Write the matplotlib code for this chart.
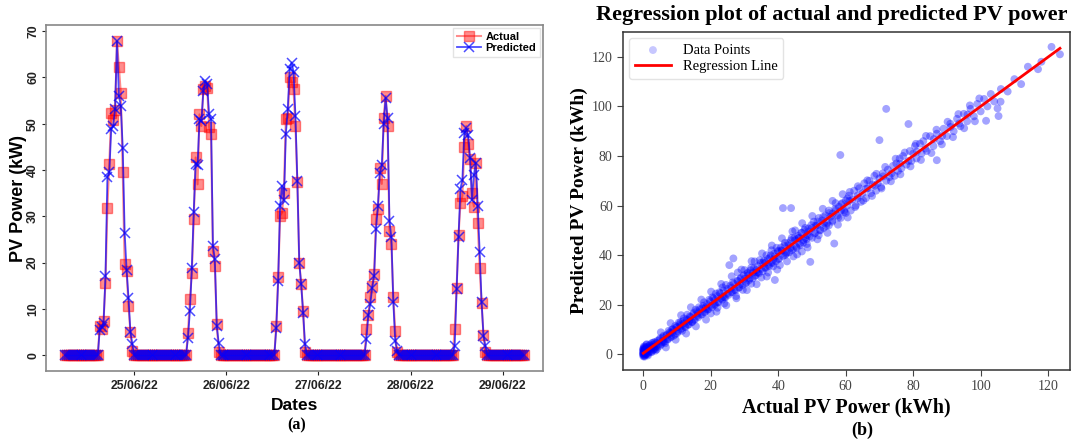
import numpy as np
import pandas as pd
import matplotlib
matplotlib.use("Agg")
import matplotlib.pyplot as plt
import matplotlib.dates as mdates

# ---- panel (a): half-hourly actual vs predicted, 24/06/22 06:00 onwards ----
start_time = "2022-06-24 06:00"
n_points = 240
# index (half-hour step) where each day's generation starts
day_starts = [18, 64, 110, 157, 203]

actual_days = [
    [6.3, 5.6, 7.5, 15.7, 31.9, 41.3, 52.4, 50.9, 53.0, 67.8, 62.3, 56.6, 39.6, 19.7, 18.3, 10.6, 5.0, 0.9],
    [4.9, 12.1, 17.7, 29.4, 42.7, 36.9, 52.0, 49.5, 57.4, 58.2, 57.8, 49.2, 47.7, 22.5, 19.3, 6.7, 0.8],
    [6.3, 16.8, 30.1, 30.8, 35.1, 51.0, 51.3, 60.0, 59.0, 57.4, 49.5, 37.3, 20.0, 15.3, 9.6, 0.6],
    [5.6, 8.8, 12.5, 15.0, 17.5, 29.5, 31.5, 40.5, 37.0, 51.3, 56.0, 49.5, 26.8, 24.0, 12.5, 5.2, 0.8],
    [5.6, 14.6, 26.0, 32.8, 34.4, 45.0, 49.5, 45.7, 42.3, 35.0, 32.1, 41.6, 28.5, 18.9, 11.3, 4.4, 0.8],
]
predicted_days = [
    [5.5, 6.0, 7.0, 17.1, 38.5, 39.5, 48.8, 49.5, 53.1, 67.8, 56.0, 53.8, 44.8, 26.5, 18.5, 12.4, 5.0, 2.4],
    [3.8, 9.6, 18.8, 31.0, 41.3, 41.0, 51.0, 50.5, 57.0, 59.3, 58.5, 52.0, 51.0, 23.6, 20.7, 6.3, 2.7],
    [5.8, 16.1, 32.3, 36.6, 33.5, 47.7, 53.1, 61.9, 63.2, 61.2, 51.7, 37.6, 20.0, 15.3, 9.2, 2.4],
    [3.5, 8.8, 11.0, 14.6, 17.1, 27.2, 32.3, 39.4, 41.0, 50.0, 55.6, 51.2, 29.0, 25.5, 11.6, 3.0, 1.0],
    [2.0, 14.2, 25.6, 36.0, 37.9, 47.9, 49.0, 47.5, 42.5, 33.5, 39.0, 41.5, 32.3, 22.4, 11.6, 4.2, 2.0],
]
tick_days = ["2022-06-25", "2022-06-26", "2022-06-27", "2022-06-28", "2022-06-29"]

# ---- panel (b): actual vs predicted pairs ----
# spread of the cloud (outer points)
scatter_actual = [
    0, 0, 0, 0, 0, 0.2, 0.3, 0.5, 0.5, 0.8, 1.0, 1.0, 1.2, 1.5, 1.5, 1.8, 2.0, 2.0, 2.3, 2.5, 2.8, 3.0, 3.0, 3.3,
    3.5, 3.8, 4.0, 4.2, 4.5, 5.0, 5.0, 5.5,
    6, 6, 6.5, 7, 7.2, 7.5, 8, 8, 8.5, 9, 9, 9.5, 10, 10, 10.5, 11, 11, 11.5, 12, 12, 12.5, 13, 13, 13.5,
    14, 14.5, 15, 15, 15.5, 16, 16.5, 17, 17.5, 18, 18, 18.5, 19, 19.5, 20, 20,
    20.5, 21, 21.5, 22, 22, 22.5, 23, 23.5, 24, 24, 24.5, 25, 25.5, 26, 26.5, 26.7, 27, 27.5, 28, 28, 28.5,
    29, 29.5, 30, 30, 30.5, 31, 31.5, 32, 32, 32.5, 33, 33, 33.5, 34, 34.5, 35, 35, 35.5, 36, 36.5, 37, 37,
    37.5, 38, 38, 38.5, 39, 39, 39.5, 40, 40,
    40.5, 41, 41.4, 42, 42, 42.5, 43, 43.8, 44, 44, 44.5, 45, 45, 45.5, 46, 46.5, 47, 47, 47.5, 48, 48,
    48.5, 49, 49.5, 50, 50, 50.5, 51, 51.5, 52, 52, 52.5, 53, 53.5, 54, 54.5, 55, 55, 55.5, 56, 56.6, 57,
    57, 57.5, 58, 58.4, 58.5, 59, 59.5, 60, 60,
    60.5, 61, 61.5, 62, 62.5, 63, 63.5, 64, 64.5, 65, 65.5, 66, 66.5, 67, 67.5, 68, 68.5, 69, 69.5, 70,
    70, 70.5, 71, 72, 72, 72.5, 73, 74, 74.5, 75, 75.5, 76, 76.5, 77, 78, 78.6, 79, 79.5, 80,
    80.5, 81, 82, 82.5, 83, 84, 85, 86, 87, 87, 88, 89, 90, 91, 92, 93, 94, 95, 96, 97, 98, 99, 100,
    101, 101.6, 102, 103, 104, 105, 105.3, 105.9, 106, 108, 110, 112, 114, 117, 118, 121, 123.5,
]
scatter_predicted = [
    0, 0.5, 1.2, -0.8, 2.0, 1.5, -0.5, 0.3, 2.6, 1.0, 0.2, 3.0, 1.8, 0.8, 2.5, 3.5, 1.2, 4.0, 2.2, 0.9, 3.0,
    1.8, 4.8, 2.6, 5.0, 3.2, 2.0, 5.5, 4.0, 3.5, 6.5, 5.0,
    5, 7.5, 4.5, 8, 6.2, 9.5, 6.8, 8.5, 10, 7.5, 9.8, 11.5, 8.5, 11, 12.8, 10, 13, 9.5, 12.5, 14.5, 11,
    13.8, 16, 12, 15, 13, 16.8, 14, 18, 15.5, 19, 16, 18.5, 17, 21, 19, 18, 22, 19.5, 16.5,
    23, 20, 24.5, 21, 18.8, 25, 22.5, 27, 23, 20.5, 28, 24.5, 36, 25, 29, 38.7, 26, 23.5, 29.5, 33, 27,
    31, 26, 30.5, 34, 29, 33, 30.5, 35, 28.5, 33, 31.5, 37.5, 34, 33, 38, 34.5, 31, 37, 35, 40, 36, 33,
    39, 37, 42, 35.5, 30, 39.5, 43, 38.5, 41.5,
    36, 42, 59, 40, 45, 41, 44, 59, 42, 47, 39.5, 46, 50, 43, 47, 44, 49, 41.5, 46, 51, 47,
    44.5, 49.5, 37.3, 51, 47, 53.5, 49, 52, 55, 48, 50, 54, 51, 56, 53, 58, 52, 55.5, 54, 44.7, 58,
    61, 56, 59.5, 80.4, 55, 61, 58, 62, 57,
    60, 64, 58, 62.5, 66, 60, 64, 67, 61.5, 65, 69, 63, 67, 70, 65, 68.5, 72, 66, 69, 86.4,
    71, 67.5, 73, 99, 70, 74.5, 71.5, 76, 72, 77, 74, 79, 75, 80, 76.5, 92.9, 82, 78, 81,
    84, 79, 85, 81, 86, 82, 88, 84, 78.3, 89, 86, 91, 88, 93, 90, 95, 92, 97, 94, 99, 96, 101, 98,
    103, 94.2, 100, 105, 102, 99.2, 96.1, 101.9, 107, 106, 111, 109, 116, 115, 118, 124, 121,
]
# dense core of the cloud, close to the diagonal
core_actual = [
    0, 0, 0.1, 0.3, 0.6, 0.7, 1.1, 1.4, 0.2, 0.9,
    0.4, 0.9, 1.3, 1.9, 2.4, 2.9, 3.4, 3.9, 4.3, 4.8, 5.4, 5.8, 6.3, 6.9, 7.3, 7.8, 8.3, 8.8, 9.4, 9.8,
    10.3, 10.8, 11.4, 11.8, 12.3, 12.9, 13.3, 13.8, 14.4, 14.8, 15.3, 15.9, 16.3, 16.8, 17.4, 17.8, 18.3,
    18.9, 19.3, 19.8, 20.4, 20.8, 21.3, 21.9, 22.3, 22.8, 23.4, 23.8, 24.3, 24.9, 25.3, 25.8, 26.4, 26.8,
    27.3, 27.9, 28.3, 28.8, 29.4, 29.8, 30.3, 30.9, 31.3, 31.8, 32.4, 32.8, 33.3, 33.9, 34.3, 34.8, 35.4,
    35.8, 36.3, 36.9, 37.3, 37.8, 38.4, 38.8, 39.3, 39.9, 40.3, 40.8, 41.4, 41.8, 42.3, 42.9, 43.3, 43.8,
    44.4, 44.8, 45.3, 45.9, 46.3, 46.8, 47.4, 47.8, 48.3, 48.9, 49.3, 49.8, 50.7, 51.6, 52.4, 53.3, 54.2,
    55.1, 56.0, 56.9, 57.8, 58.7, 59.6, 60.5,
    61.2, 62.8, 63.6, 65.2, 66.4, 67.8, 69.1, 70.6, 71.7, 73.4, 74.8, 76.2, 77.5, 79.2, 80.8, 82.3, 83.8,
    85.4, 86.9, 88.5, 90.2, 91.8, 93.4, 95.1, 96.8, 98.3, 99.6,
    3.1, 5.9, 8.6, 11.1, 13.6, 16.1, 18.6, 21.1, 23.6, 26.1, 28.6, 31.1, 33.6, 36.1, 38.6, 41.1, 43.6,
    46.1, 48.6, 51.1, 53.6, 56.1, 58.6, 61.1, 63.6, 66.1, 68.6, 71.1, 73.6, 76.1, 78.6, 81.1, 83.6, 86.1,
    88.6, 91.1, 93.6, 96.1,
    0, 0, 0, 0.4, 0.6, 1.0, 1.6, 2.2, 2.6, 3.6, 0.3, 1.3,
]
core_predicted = [
    0.8, -0.3, 1.9, 0.6, -0.2, 2.1, 1.4, -0.4, 3.2, 3.8,
    1.6, 0.3, 2.8, 2.5, 1.1, 3.9, 2.1, 4.6, 3.0, 5.9, 4.2, 6.9, 5.1, 7.6, 6.0, 8.9, 7.1, 10.2, 8.0, 10.9,
    9.2, 12.1, 10.5, 13.4, 11.2, 14.2, 12.0, 15.3, 13.1, 16.2, 14.0, 17.4, 15.0, 18.2, 16.1, 19.6, 17.0,
    20.3, 18.2, 21.4, 19.0, 22.6, 20.1, 23.5, 21.0, 24.6, 22.1, 25.7, 22.9, 26.4, 24.0, 27.6, 25.1, 28.5,
    25.8, 29.7, 26.9, 30.4, 28.0, 31.9, 28.7, 32.6, 29.8, 33.9, 30.6, 34.7, 31.9, 35.6, 32.7, 36.9, 33.5,
    37.8, 34.9, 38.5, 35.6, 39.9, 36.8, 40.6, 37.5, 41.8, 38.6, 43.1, 39.7, 43.8, 40.5, 44.9, 41.2, 46.0,
    42.5, 46.9, 43.4, 47.8, 44.6, 49.0, 45.1, 50.2, 46.4, 50.8, 47.6, 52.1, 48.8, 53.6, 50.2, 55.4, 51.8,
    57.0, 53.5, 58.8, 55.2, 60.6, 57.4, 62.8,
    65.5, 59.4, 67.8, 62.0, 70.2, 63.9, 72.8, 66.9, 75.6, 69.8, 78.9, 72.6, 81.4, 75.8, 84.9, 78.4, 88.1,
    81.2, 90.6, 84.7, 93.8, 87.6, 96.9, 91.2, 100.4, 94.0, 103.2,
    3.0, 5.7, 8.8, 11.5, 13.2, 16.6, 18.4, 21.7, 23.3, 26.8, 28.2, 31.9, 33.1, 36.9, 38.2, 41.8, 43.0,
    46.9, 48.1, 51.9, 53.0, 56.8, 58.1, 61.9, 63.0, 66.9, 68.0, 71.8, 73.0, 76.9, 78.0, 81.8, 83.0, 86.8,
    88.1, 91.7, 93.1, 96.7,
    0.3, 1.6, 2.4, -0.9, 1.2, 4.1, 1.9, 3.2, 4.6, 1.5, 2.9, 0.1,
]
# wider band on both sides of the diagonal
band_actual = [
    5.2, 6.7, 8.1, 9.6, 11.2, 12.7, 14.1, 15.6, 17.2, 18.6, 20.1, 21.7, 23.1, 24.6, 26.2, 27.6, 29.1,
    30.7, 32.1, 33.6, 35.2, 36.6, 38.1, 39.7, 41.1, 42.6, 44.2, 45.6, 47.1, 48.7, 50.1, 51.6, 53.2,
    54.6, 56.1, 57.7, 59.1, 60.6,
]
band_predicted = [
    8.9, 2.8, 12.6, 5.9, 15.8, 8.4, 19.0, 11.3, 22.1, 14.0, 25.3, 17.2, 28.4, 19.8, 31.5, 22.6, 34.2,
    25.9, 37.6, 28.3, 40.7, 31.4, 43.9, 34.2, 46.8, 37.5, 49.6, 40.3, 52.9, 43.1, 55.8, 46.4, 58.7,
    49.0, 61.9, 52.3, 64.6, 55.2,
]

# build the half-hourly series
times = pd.date_range(start_time, periods=n_points, freq="30min")
actual = np.zeros(n_points)
predicted = np.zeros(n_points)
for s, a, p in zip(day_starts, actual_days, predicted_days):
    actual[s:s + len(a)] = a
    predicted[s:s + len(p)] = p

pts_x = np.array(scatter_actual + core_actual + band_actual)
pts_y = np.array(scatter_predicted + core_predicted + band_predicted)

fig = plt.figure(figsize=(10.72, 4.42), dpi=100)

# ---------------- (a) ----------------
ax1 = fig.add_axes([0.0429, 0.1606, 0.4636, 0.7828])
ax1.plot(times, actual, color="red", marker="s", markersize=7, alpha=0.45,
         linewidth=1.5, label="Actual")
ax1.plot(times, predicted, color="blue", marker="x", markersize=7, alpha=0.7,
         linewidth=1.3, markeredgewidth=1.1, label="Predicted")
ax1.set_xlim(times[0] - pd.Timedelta(hours=5), times[-1] + pd.Timedelta(hours=5))
ax1.set_ylim(-3.4, 71.3)
ax1.set_yticks(range(0, 71, 10))
ax1.set_xticks(pd.to_datetime(tick_days))
ax1.xaxis.set_major_formatter(mdates.DateFormatter("%d/%m/%y"))
for lab in ax1.get_xticklabels():
    lab.set_fontweight("bold")
    lab.set_fontfamily("Liberation Sans")
for lab in ax1.get_yticklabels():
    lab.set_fontweight("bold")
    lab.set_fontfamily("Liberation Sans")
    lab.set_rotation(90)
    lab.set_va("center")
ax1.tick_params(axis="both", labelsize=8.8, colors="#222222", length=3, width=0.8)
ax1.tick_params(axis="y", pad=2)
for sp in ax1.spines.values():
    sp.set_color("#888888")
    sp.set_linewidth(1.2)
ax1.set_ylabel("PV Power (kW)", fontsize=13, fontweight="bold", family="Liberation Sans")
ax1.yaxis.set_label_coords(-0.038, 0.5)
ax1.set_xlabel("Dates", fontsize=12.5, fontweight="bold", family="Liberation Sans", labelpad=4)
leg1 = ax1.legend(loc="upper right", prop={"family": "Liberation Sans", "weight": "bold", "size": 8},
                  handlelength=2.2, borderpad=0.3, labelspacing=0.15, handletextpad=0.4,
                  borderaxespad=0.3, fancybox=False)
leg1.get_frame().set_edgecolor("#dddddd")
fig.text(0.277, 0.038, "(a)", ha="center", va="center", fontsize=11.5,
         fontweight="bold", family="Liberation Serif")

# ---------------- (b) ----------------
ax2 = fig.add_axes([0.5812, 0.1629, 0.417, 0.7647])
ax2.scatter(pts_x, pts_y, s=32, color="blue", alpha=0.36,
            edgecolors="none", label="Data Points")
coef = np.polyfit(pts_x, pts_y, 1)
xl = np.array([pts_x.min(), pts_x.max()])
ax2.plot(xl, np.polyval(coef, xl), color="red", linewidth=2, label="Regression Line")
ax2.set_xlim(-6.0, 126.5)
ax2.set_ylim(-6.3, 130)
ax2.set_xticks(range(0, 121, 20))
ax2.set_yticks(range(0, 121, 20))
for lab in ax2.get_xticklabels() + ax2.get_yticklabels():
    lab.set_fontfamily("Liberation Serif")
ax2.tick_params(axis="both", labelsize=10, colors="#444444", length=4, width=0.8)
for sp in ax2.spines.values():
    sp.set_color("#333333")
    sp.set_linewidth(1.1)
ax2.set_xlabel("Actual PV Power (kWh)", fontsize=14.5, fontweight="bold",
               family="Liberation Serif", labelpad=3)
ax2.set_ylabel("Predicted PV Power (kWh)", fontsize=14, fontweight="bold", family="Liberation Serif")
ax2.yaxis.set_label_coords(-0.078, 0.5)
fig.text(0.776, 0.965, "Regression plot of actual and predicted PV power", ha="center",
         va="center", fontsize=16, fontweight="bold", family="Liberation Serif")
leg2 = ax2.legend(loc="upper left", prop={"family": "Liberation Serif", "size": 10.5},
                  borderaxespad=0.4, handlelength=2.5, labelspacing=0.2)
leg2.get_frame().set_edgecolor("#dddddd")
for h in leg2.legend_handles[:1]:
    h.set_alpha(0.22)
fig.text(0.804, 0.027, "(b)", ha="center", va="center", fontsize=13,
         fontweight="bold", family="Liberation Serif")

fig.savefig("out.png", dpi=100)
